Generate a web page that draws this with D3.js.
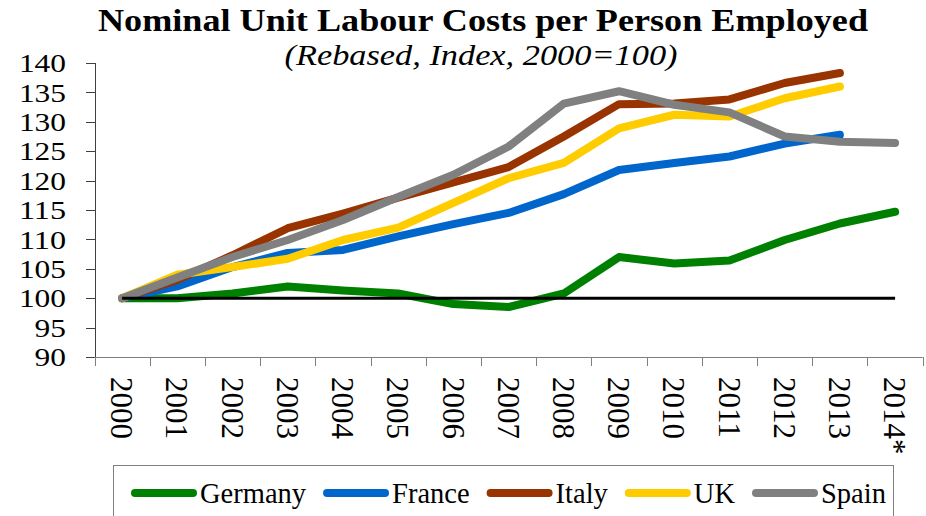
<!DOCTYPE html>
<html>
<head>
<meta charset="utf-8">
<script src="https://cdn.jsdelivr.net/npm/d3@7"></script>
<style>
  body { margin: 0; background: #fff; }
  svg { display: block; font-family: "Liberation Serif", serif; }
</style>
</head>
<body>
<svg id="chart" width="926" height="516"></svg>
<script>
// data
var years = ["2000", "2001", "2002", "2003", "2004", "2005", "2006", "2007",
             "2008", "2009", "2010", "2011", "2012", "2013", "2014*"];
var yTicks = [90, 95, 100, 105, 110, 115, 120, 125, 130, 135, 140];

var germany = [100, 100, 100.8, 102, 101.3, 100.8, 99, 98.5, 100.8, 107, 105.9, 106.4, 109.9, 112.7, 114.7];
var france  = [100, 102, 105.3, 107.7, 108.2, 110.5, 112.6, 114.5, 117.7, 121.8, 123, 124.1, 126.3, 127.8];
var italy   = [100, 103.1, 107.3, 111.9, 114.4, 117.1, 119.7, 122.3, 127.5, 133, 133.1, 133.8, 136.6, 138.3];
var uk      = [100, 104, 105.3, 106.7, 109.9, 112, 116.2, 120.4, 123, 128.9, 131.2, 130.9, 134, 136];
var spain   = [100, 103.5, 107, 109.9, 113.3, 117.2, 121, 125.8, 133.1, 135.2, 132.9, 131.6, 127.5, 126.6, 126.4];

var series = [
  { name: "Germany", values: germany, color: "#008000" },
  { name: "France",  values: france,  color: "#0066CC" },
  { name: "Italy",   values: italy,   color: "#993300" },
  { name: "UK",      values: uk,      color: "#FFCC00" },
  { name: "Spain",   values: spain,   color: "#808080" }
];

var svg = d3.select("#chart");

var x = d3.scaleBand().domain(years).range([94.5, 922.7]).padding(0);
var y = d3.scaleLinear().domain([90, 140]).range([357, 63]);
var cx = function(i) { return x(years[i]) + x.bandwidth() / 2; };

// title
svg.append("text")
  .attr("x", 483).attr("y", 31)
  .attr("text-anchor", "middle")
  .attr("font-weight", "bold")
  .attr("font-size", 31)
  .attr("textLength", 770).attr("lengthAdjust", "spacingAndGlyphs")
  .text("Nominal Unit Labour Costs per Person Employed");

svg.append("text")
  .attr("x", 481).attr("y", 65)
  .attr("text-anchor", "middle")
  .attr("font-style", "italic")
  .attr("font-size", 29)
  .attr("textLength", 393).attr("lengthAdjust", "spacingAndGlyphs")
  .text("(Rebased, Index, 2000=100)");

// y axis
var yAxis = svg.append("g").attr("stroke", "#404040");
yAxis.append("line")
  .attr("x1", 95.5).attr("x2", 95.5)
  .attr("y1", y(140)).attr("y2", y(90));
yAxis.selectAll("line.tick")
  .data(yTicks).enter().append("line")
  .attr("class", "tick")
  .attr("x1", 86).attr("x2", 95.5)
  .attr("y1", function(d) { return Math.round(y(d)) + 0.5; })
  .attr("y2", function(d) { return Math.round(y(d)) + 0.5; });
svg.selectAll("text.ylab")
  .data(yTicks).enter().append("text")
  .attr("class", "ylab")
  .attr("x", 66)
  .attr("y", function(d) { return y(d); })
  .attr("dy", "0.35em")
  .attr("text-anchor", "end")
  .attr("font-size", 26)
  .attr("textLength", function(d) { return String(d).length * 15.7; })
  .attr("lengthAdjust", "spacingAndGlyphs")
  .text(function(d) { return d; });

// x axis
var xAxis = svg.append("g").attr("stroke", "#7f7f7f");
xAxis.append("line")
  .attr("x1", x.range()[0]).attr("x2", x.range()[1])
  .attr("y1", 357.5).attr("y2", 357.5);
var edges = years.map(function(d) { return x(d); }).concat([x.range()[1]]);
xAxis.selectAll("line.tick")
  .data(edges).enter().append("line")
  .attr("class", "tick")
  .attr("x1", function(d) { return Math.round(d) + 0.5; })
  .attr("x2", function(d) { return Math.round(d) + 0.5; })
  .attr("y1", 357).attr("y2", 366);
svg.selectAll("text.xlab")
  .data(years).enter().append("text")
  .attr("class", "xlab")
  .attr("transform", function(d) {
    return "translate(" + (x(d) + x.bandwidth() / 2) + ",377) rotate(90)";
  })
  .attr("dy", "0.35em")
  .attr("font-size", 31)
  .text(function(d) { return d; });

// lines
var line = d3.line()
  .x(function(d, i) { return cx(i); })
  .y(function(d) { return y(d); });

svg.append("g")
  .attr("fill", "none")
  .attr("stroke-width", 8)
  .attr("stroke-linecap", "round")
  .attr("stroke-linejoin", "round")
  .selectAll("path")
  .data(series).enter().append("path")
  .attr("stroke", function(d) { return d.color; })
  .attr("d", function(d) { return line(d.values); });

// 2000 = 100 reference line
svg.append("line")
  .attr("x1", cx(0)).attr("x2", cx(years.length - 1))
  .attr("y1", y(100)).attr("y2", y(100))
  .attr("stroke", "#000").attr("stroke-width", 3);

// legend
var legend = svg.append("g");
legend.append("rect")
  .attr("x", 113.5).attr("y", 465.5)
  .attr("width", 780).attr("height", 60)
  .attr("fill", "#fff").attr("stroke", "#7f7f7f");

var lx = 135;
series.forEach(function(s) {
  legend.append("line")
    .attr("x1", lx).attr("x2", lx + 58)
    .attr("y1", 493).attr("y2", 493)
    .attr("stroke", s.color).attr("stroke-width", 8)
    .attr("stroke-linecap", "round");
  var t = legend.append("text")
    .attr("x", lx + 65).attr("y", 503)
    .attr("font-size", 28.5)
    .text(s.name);
  lx += 65 + t.node().getComputedTextLength() + 21;
});
</script>
</body>
</html>
